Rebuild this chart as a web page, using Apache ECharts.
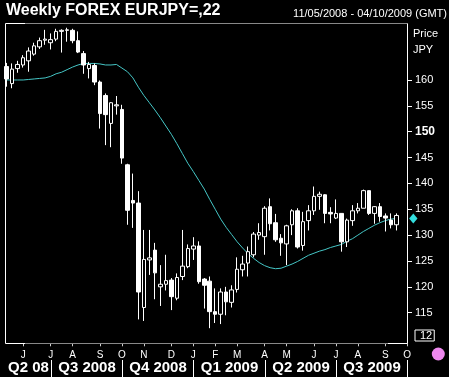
<!DOCTYPE html>
<html><head><meta charset="utf-8">
<script src="https://cdn.jsdelivr.net/npm/echarts@6/dist/echarts.min.js"></script>
<style>html,body{margin:0;padding:0;background:#000;}#c{width:449px;height:377px;}</style>
</head><body><div id="c"></div>
<script>
const startWeek = '2008-05-11';
const weekCount = 74;
const opens = [162.6,159.3,162.2,162.9,163.7,165.0,166.4,167.7,167.2,167.9,169.4,169.6,169.6,167.6,165.1,162.2,162.8,159.6,157.0,151.6,155.0,154.3,143.6,136.7,136.2,116.0,125.2,127.1,120.0,120.5,121.3,117.8,122.0,123.9,127.3,127.9,121.5,121.1,115.2,114.7,119.0,117.0,119.5,123.3,124.6,126.2,130.0,129.7,135.5,132.4,129.4,128.3,132.0,134.7,128.0,132.8,134.7,137.5,137.8,134.4,133.3,134.2,128.7,132.8,134.7,135.2,138.6,134.2,135.5,133.7,132.9,132.0];
const closes = [160.2,162.1,163.0,164.3,165.6,166.6,167.6,167.9,167.8,169.4,169.6,169.7,167.6,165.4,162.9,163.0,159.6,153.5,153.3,155.6,155.2,144.9,134.8,136.2,119.0,125.3,125.6,122.7,120.5,121.2,118.1,121.8,124.0,127.4,127.9,121.0,120.3,115.2,114.7,119.0,117.1,119.4,123.4,124.4,126.8,130.2,130.5,135.2,132.2,129.1,128.5,131.8,134.7,127.7,132.6,134.7,137.5,137.9,134.2,134.1,134.2,128.7,132.9,134.7,135.2,138.6,134.2,135.5,133.6,133.3,132.0,133.8];
const lows = [158.7,158.4,161.4,162.4,161.6,164.7,166.0,166.8,165.9,167.5,165.3,167.4,167.1,165.2,161.2,160.3,159.0,150.6,147.4,147.0,153.3,143.8,132.0,131.4,113.7,113.4,122.3,117.6,116.3,119.3,115.5,117.4,121.3,123.6,125.2,120.6,115.8,112.0,113.0,112.8,114.5,116.0,118.9,122.0,122.0,125.7,129.1,126.2,130.9,128.7,126.0,124.2,130.0,127.4,127.0,130.9,133.9,134.9,132.3,132.3,133.1,126.8,127.7,131.8,134.2,135.2,133.9,132.2,132.6,130.7,131.3,130.9];
const highs = [163.3,163.2,163.7,164.8,166.3,167.2,168.2,169.7,169.0,169.9,169.8,170.1,169.9,169.4,165.6,163.5,163.2,159.9,157.4,155.7,156.9,155.2,143.8,141.9,138.5,131.0,131.0,128.5,124.2,126.2,121.7,122.6,131.0,128.2,129.6,128.8,121.7,122.0,119.7,119.7,120.0,120.3,125.7,126.0,127.8,130.6,132.3,135.6,137.1,134.1,130.2,132.0,135.0,135.2,134.5,135.8,139.4,138.4,137.9,135.4,136.9,134.2,133.2,135.8,136.2,138.8,138.6,135.6,136.2,134.2,134.2,134.2];
const maValues = [160.0,160.0,160.0,160.0,160.1,160.2,160.3,160.4,160.7,161.2,161.5,162.0,162.5,162.9,163.2,163.2,163.2,163.1,162.9,162.9,163.0,162.3,161.6,160.4,158.6,157.0,155.6,154.2,152.7,151.1,149.5,147.7,145.8,143.9,142.3,140.6,138.9,136.9,135.0,133.1,131.5,130.1,128.7,127.5,126.4,125.5,124.7,124.1,123.7,123.5,123.6,124.0,124.4,124.9,125.5,126.1,126.5,126.9,127.2,127.6,127.9,128.2,128.8,129.3,130.0,130.7,131.3,131.9,132.4,132.8,133.1,133.2];
const yTicks = [115,120,125,130,135,140,145,150,155,160];
const boldTick = 150;
const quarterLabels = ['Q2 08','Q3 2008','Q4 2008','Q1 2009','Q2 2009','Q3 2009'];
const monthLetters = ['J','F','M','A','M','J','J','A','S','O','N','D'];
const titleText = 'Weekly FOREX EURJPY=,22';
const rangeText = '11/05/2008 - 04/10/2009 (GMT)';
const axisUnitTop = 'Price';
const axisUnitBottom = 'JPY';
const boxText = '12';

const FONT = '"Liberation Sans", Arial, sans-serif';
const categories = [];
const d0 = new Date(startWeek + 'T00:00:00Z');
for (let i = 0; i < weekCount; i++) {
  const d = new Date(d0.getTime() + i * 7 * 86400000);
  categories.push(d.toISOString().slice(0, 10));
}
const monthOf = i => parseInt(categories[i].slice(5, 7), 10);
const isMonthStart = i => i > 0 && monthOf(i) !== monthOf(i - 1);
const candles = opens.map((o, i) => [o, closes[i], lows[i], highs[i]]);

const chart = echarts.init(document.getElementById('c'), null, {renderer: 'canvas'});
const option = {
  animation: false,
  backgroundColor: '#000',
  textStyle: {fontFamily: FONT},
  grid: {left: 4, width: 406, top: 23.3, height: 320},
  xAxis: {
    type: 'category', data: categories, boundaryGap: true,
    axisLine: {show: false},
    axisTick: {show: true, alignWithLabel: true, length: 3, interval: (i) => isMonthStart(i), lineStyle: {color: '#ccc'}},
    axisLabel: {color: '#fff', fontSize: 10, fontFamily: FONT, margin: 7, interval: (i) => isMonthStart(i),
      formatter: (v) => monthLetters[parseInt(v.slice(5, 7), 10) - 1]},
    splitLine: {show: false}
  },
  yAxis: {
    type: 'value', position: 'right', offset: -2, min: 109.08, max: 170.96, scale: true,
    axisLine: {show: false},
    axisTick: {show: true, length: 4, customValues: yTicks, lineStyle: {color: '#fff'}},
    axisLabel: {color: '#fff', fontSize: 11, fontFamily: FONT, margin: 7, customValues: yTicks,
      formatter: (v) => v === boldTick ? '{b|' + v + '}' : String(v),
      rich: {b: {fontWeight: 'bold', fontSize: 12, color: '#fff', fontFamily: FONT}}},
    splitLine: {show: false}
  },
  series: [
    {type: 'candlestick', data: candles, barWidth: 4,
      itemStyle: {color: '#000', color0: '#fff', borderColor: '#fff', borderColor0: '#fff', borderColorDoji: '#fff', borderWidth: 1}},
    {type: 'line', data: maValues, symbol: 'none', smooth: false,
      lineStyle: {color: '#45c6c6', width: 1}, z: 1}
  ]
};
chart.setOption(option);

const toPx = (r) => Array.isArray(r) ? r : r;
const px = i => { const r = chart.convertToPixel({xAxisIndex: 0}, i); return Array.isArray(r) ? r[0] : r; };
const py = v => { const r = chart.convertToPixel({yAxisIndex: 0}, v); return Array.isArray(r) ? r[1] : r; };
const line = (x1, y1, x2, y2, c) => ({type: 'line', silent: true, z: 10, shape: {x1, y1, x2, y2}, style: {stroke: c, lineWidth: 1}});
const g = [];
g.push({type: 'text', left: 6, top: 3, style: {text: titleText, fill: '#fff', font: 'bold 16px ' + FONT}});
g.push({type: 'text', right: 2, top: 8, style: {text: rangeText, fill: '#fff', font: '11px ' + FONT}});
g.push({type: 'text', x: 413, y: 34, style: {text: axisUnitTop, fill: '#fff', font: '11px ' + FONT, verticalAlign: 'middle'}});
g.push({type: 'text', x: 413, y: 50, style: {text: axisUnitBottom, fill: '#fff', font: '11px ' + FONT, verticalAlign: 'middle'}});
// frame
g.push(line(5.5, 23.5, 25, 23.5, '#fff'));
g.push(line(25, 23.5, 407.5, 23.5, '#888'));
g.push(line(5.5, 343.5, 25, 343.5, '#fff'));
g.push(line(25, 343.5, 388, 343.5, '#888'));
g.push(line(388, 343.5, 407.5, 343.5, '#fff'));
g.push(line(5.5, 23.5, 5.5, 343.5, '#fff'));
g.push(line(407.5, 23.5, 407.5, 343.5, '#fff'));
// quarter separators and labels
const qStarts = [];
for (let i = 1; i < weekCount; i++) {
  if (isMonthStart(i) && [1, 4, 7, 10].includes(monthOf(i))) qStarts.push(i);
}
const bounds = [5.5].concat(qStarts.map(i => Math.min(407.5, Math.round(px(i)) + 0.5)));
qStarts.forEach((i, k) => { g.push(line(bounds[k + 1], 360, bounds[k + 1], 377, '#fff')); });
quarterLabels.forEach((t, k) => {
  const cx = (bounds[k] + bounds[k + 1]) / 2;
  g.push({type: 'text', x: cx, y: 368, style: {text: t, fill: '#fff', font: 'bold 15px ' + FONT, align: 'center', verticalAlign: 'middle'}});
});
// last MA marker diamond on the axis
const dy = py(maValues[maValues.length - 1]);
g.push({type: 'polygon', z: 11, shape: {points: [[413.3, dy - 5], [417.5, dy], [413.3, dy + 5], [409.1, dy]]}, style: {fill: '#33dddd'}});
// boxed label
g.push({type: 'text', x: 415, y: 330, style: {text: boxText, fill: '#fff', font: '11px ' + FONT, borderColor: '#fff', borderWidth: 1, padding: [0, 2, 0, 5]}});
g.push({type: 'circle', shape: {cx: 438.3, cy: 354, r: 6.5}, style: {fill: '#ee88ee'}});
chart.setOption({graphic: g});
</script></body></html>
